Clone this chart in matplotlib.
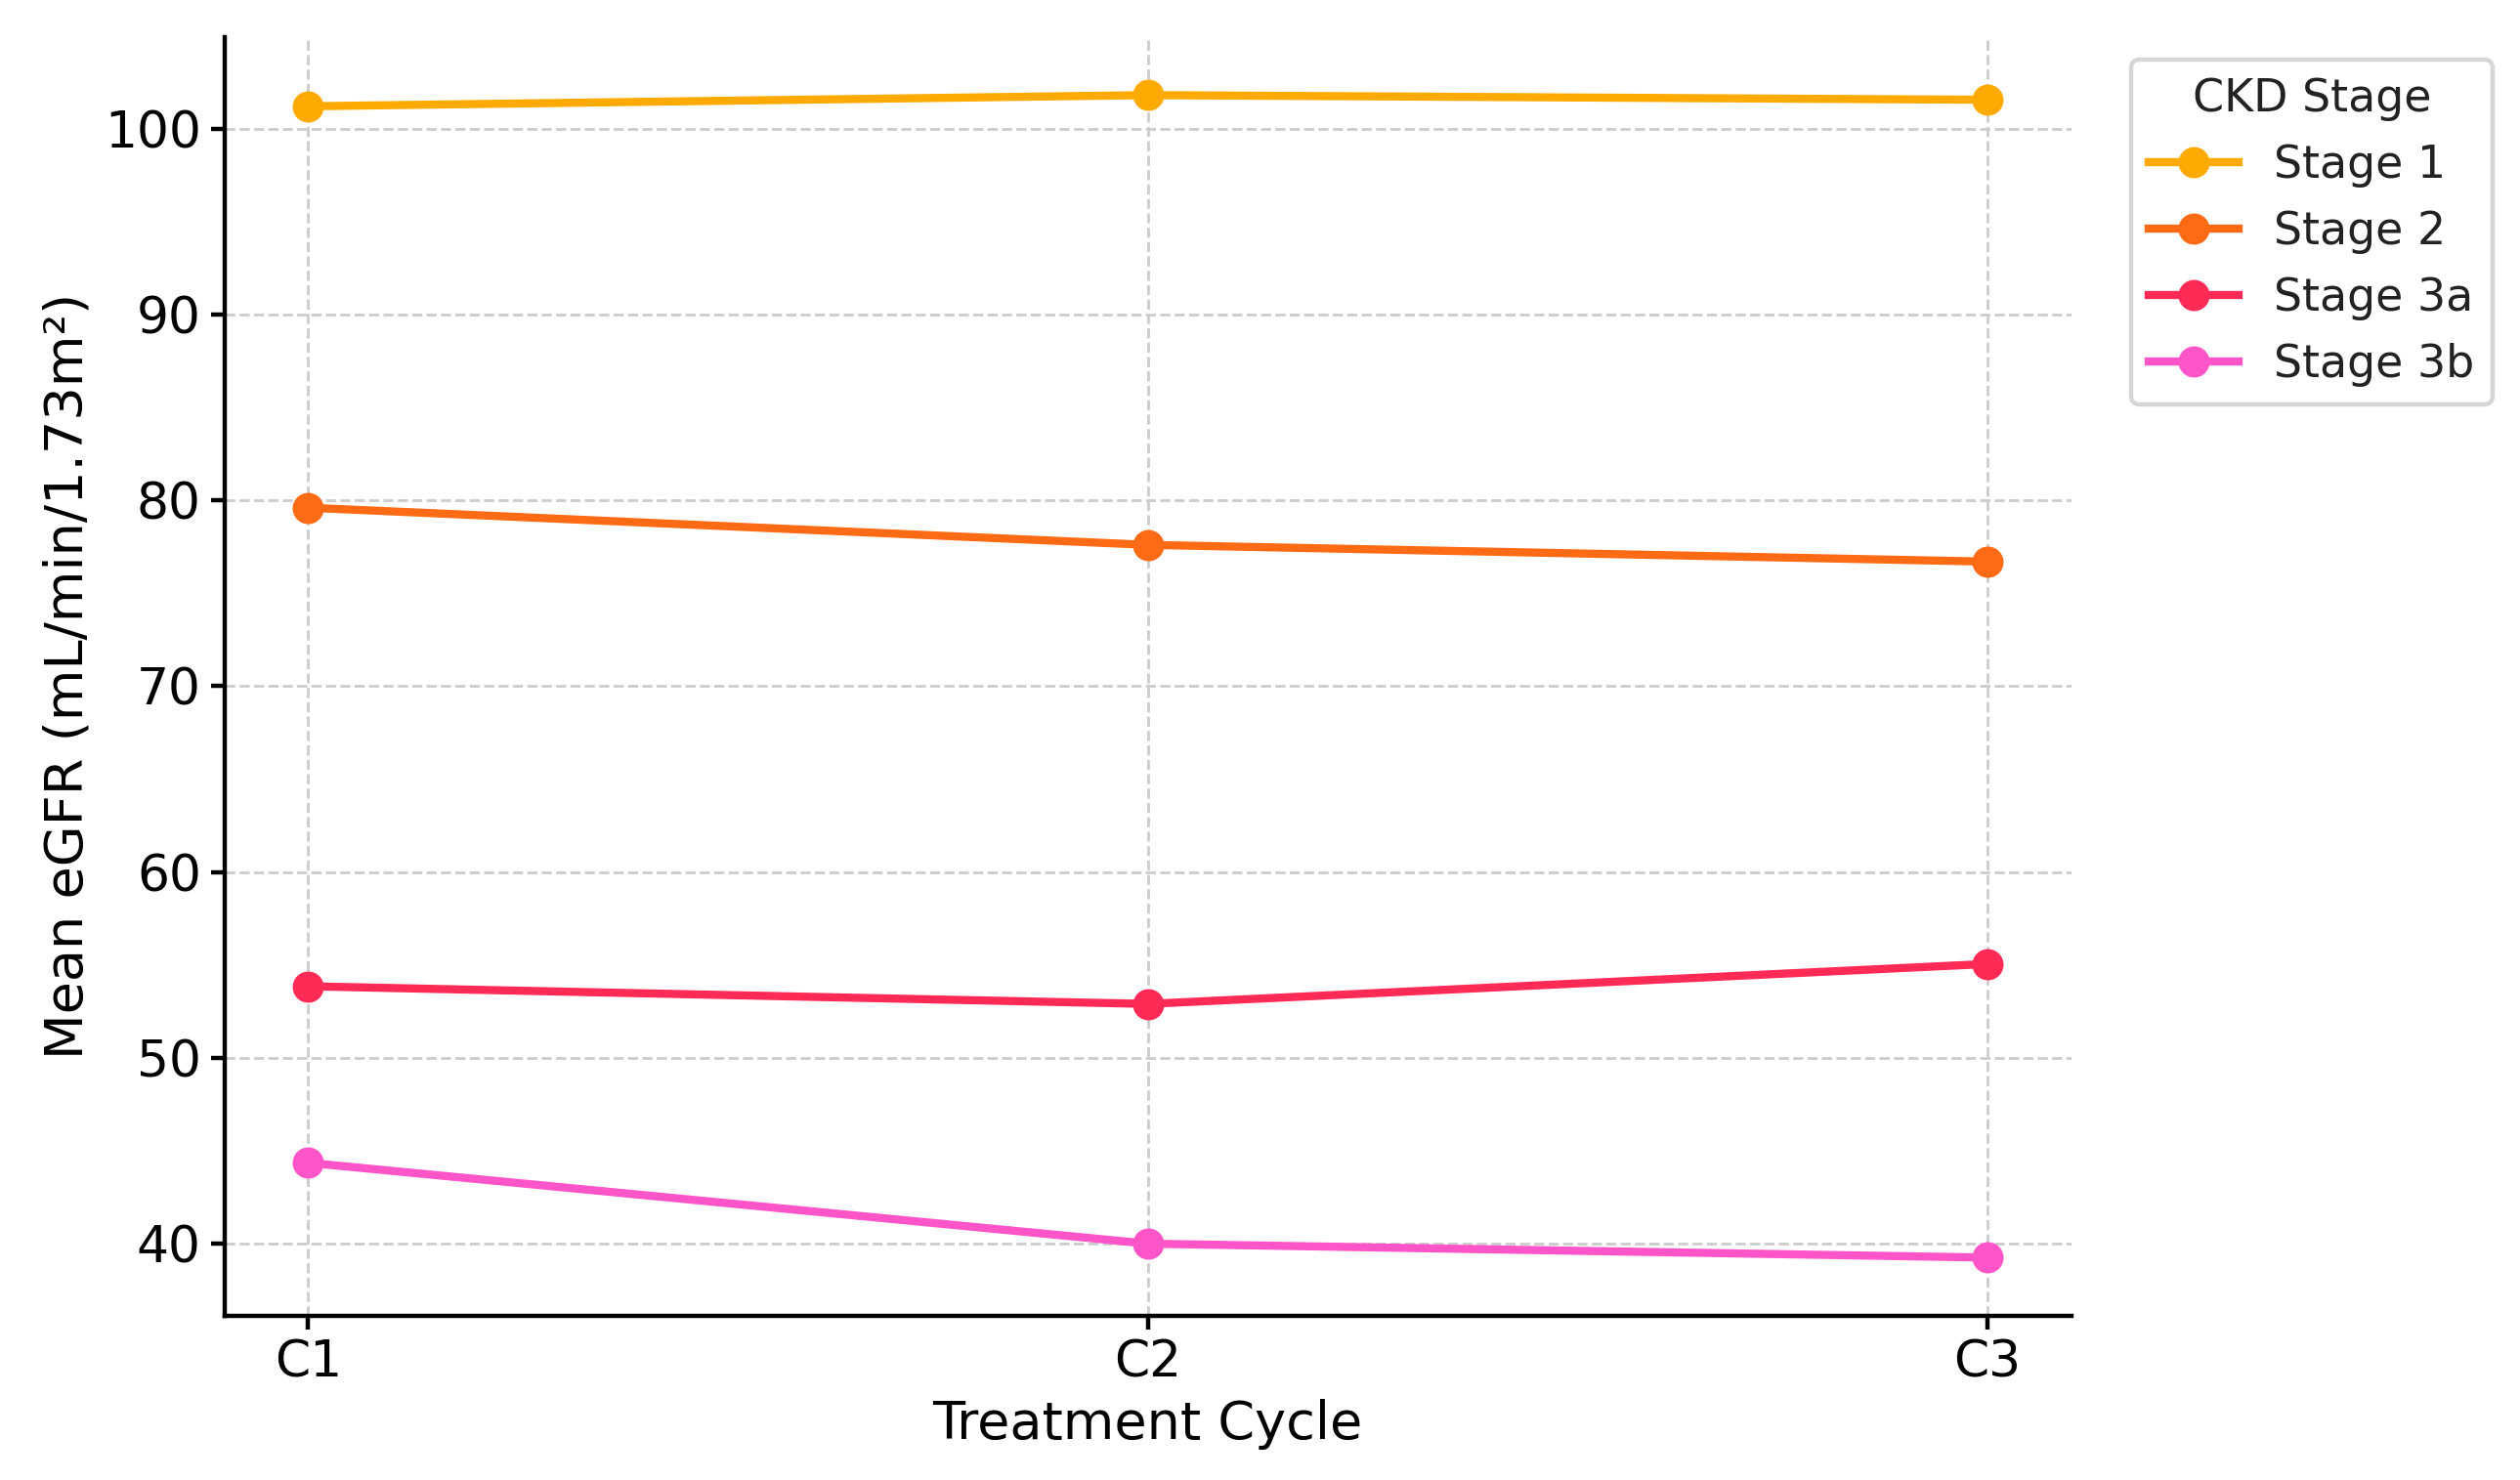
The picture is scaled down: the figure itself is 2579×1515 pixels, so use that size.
import matplotlib
matplotlib.use("Agg")
import matplotlib.pyplot as plt

# Данные графика
cycles = ["C1", "C2", "C3"]
stages = ["Stage 1", "Stage 2", "Stage 3a", "Stage 3b"]
stage1 = [101.2, 101.8, 101.55]
stage2 = [79.6, 77.6, 76.7]
stage3a = [53.85, 52.9, 55.05]
stage3b = [44.35, 40.0, 39.25]
colors = ["#FFAA00", "#FF6A14", "#FF2A55", "#FF55C8"]

plt.rcParams["font.family"] = ["DejaVu Sans"]

fig = plt.figure(figsize=(2579 / 200, 1515 / 200), dpi=200)
ax = fig.add_axes([0.089, 0.111, 0.733, 0.864])

for name, vals, c in zip(stages, [stage1, stage2, stage3a, stage3b], colors):
    ax.plot(cycles, vals, marker="o", color=c, linewidth=3.0, markersize=10.5, label=name)

ax.grid(True, linestyle="--", color="#cccccc", linewidth=1.0)
ax.set_axisbelow(True)
for s in ["top", "right"]:
    ax.spines[s].set_visible(False)
for s in ["left", "bottom"]:
    ax.spines[s].set_linewidth(1.6)
ax.tick_params(labelsize=18.7, width=1.6, length=5)

ax.set_xlabel("Treatment Cycle", fontsize=19.5)
ax.set_ylabel("Mean eGFR (mL/min/1.73m²)", fontsize=19.5)

leg = ax.legend(title="CKD Stage", loc="upper left", bbox_to_anchor=(1.02, 1.0),
                fontsize=16.5, title_fontsize=16.5, frameon=True)
leg.get_frame().set_edgecolor("#cccccc")
leg.get_frame().set_linewidth(1.6)
for t in leg.get_texts():
    t.set_color("#222222")
leg.get_title().set_color("#222222")

fig.savefig("out.png", dpi=200)
plt.close(fig)
